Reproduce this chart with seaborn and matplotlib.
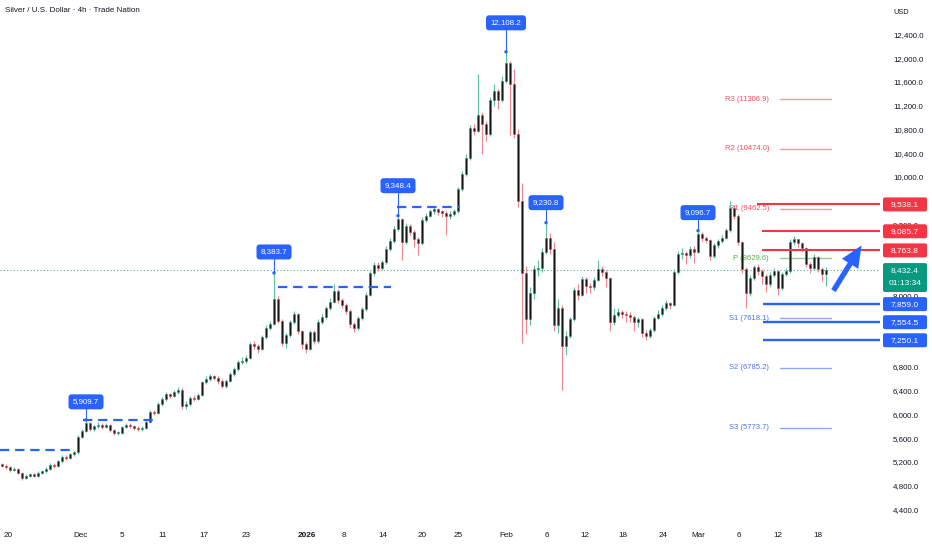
import matplotlib
matplotlib.use("Agg")
import matplotlib.pyplot as plt
from matplotlib.transforms import IdentityTransform
from matplotlib.patches import FancyBboxPatch, FancyArrowPatch
from matplotlib.lines import Line2D
import numpy as np
import pandas as pd
import seaborn as sns

# ---------------- data ----------------
first_open = 5160
closes = [
    5140, 5120, 5060, 5080, 5010, 4930, 4960, 4990, 4970, 5010,
    5040, 5090, 5150, 5130, 5210, 5290, 5270, 5330, 5360, 5620,
    5730, 5850, 5760, 5800, 5830, 5790, 5820, 5740, 5680, 5690,
    5790, 5830, 5800, 5780, 5750, 5770, 5880, 6040, 6030, 6180,
    6260, 6340, 6310, 6380, 6420, 6140, 6180, 6280, 6260, 6330,
    6540, 6600, 6640, 6620, 6560, 6480, 6560, 6680, 6760, 6880,
    6900, 6950, 7180, 7150, 7100, 7300, 7460, 7520, 7950, 7580,
    7200, 7340, 7550, 7690, 7400, 7180, 7110, 7390, 7230, 7560,
    7650, 7790, 7900, 8080, 7920, 7850, 7740, 7520, 7460, 7620,
    7780, 8020, 8380, 8520, 8470, 8560, 8790, 8920, 9130, 9290,
    8900, 9180, 9080, 8950, 8880, 9280, 9350, 9420, 9460, 9410,
    9400, 9340, 9380, 9420, 9790, 10050, 10320, 10830, 10780, 11050,
    10900, 10720, 11300, 11440, 11300, 11620, 11920, 11560, 10720, 9600,
    8380, 7600, 8050, 8450, 8470, 8740, 8980, 8780, 7500, 7790,
    7150, 7330, 7600, 8100, 8020, 8290, 8170, 8140, 8270, 8450,
    8400, 8300, 7550, 7680, 7720, 7700, 7680, 7640, 7560, 7600,
    7380, 7320, 7420, 7620, 7700, 7800, 7870, 7840, 8400, 8700,
    8720, 8680, 8790, 8740, 9040, 8980, 8940, 8670, 8850, 8920,
    8980, 9100, 9480, 9350, 8900, 8450, 8050, 8300, 8480, 8420,
    8330, 8200, 8350, 8410, 8130, 8360, 8410, 8900, 8950, 8880,
    8800, 8540, 8470, 8650, 8450, 8360, 8432.4,
]
highs = [
    5190, 5170, 5140, 5110, 5100, 5030, 4990, 5020, 5010, 5040,
    5070, 5120, 5180, 5190, 5240, 5310, 5320, 5350, 5390, 5650,
    5760, 5909.7, 5870, 5830, 5870, 5850, 5850, 5840, 5760, 5720,
    5810, 5860, 5860, 5820, 5800, 5800, 5900, 6070, 6080, 6210,
    6290, 6380, 6370, 6410, 6460, 6440, 6220, 6310, 6320, 6370,
    6570, 6640, 6680, 6670, 6650, 6590, 6600, 6710, 6800, 6920,
    6960, 7000, 7220, 7230, 7190, 7340, 7500, 7580, 8383.7, 7990,
    7610, 7380, 7590, 7740, 7710, 7420, 7220, 7420, 7420, 7600,
    7700, 7830, 7960, 8200, 8110, 7960, 7880, 7770, 7560, 7660,
    7810, 8060, 8420, 8570, 8560, 8600, 8830, 8970, 9180, 9348.4,
    9310, 9230, 9210, 9110, 8990, 9320, 9400, 9460, 9500, 9480,
    9450, 9420, 9420, 9460, 9830, 10100, 10380, 10880, 10900, 11740,
    11100, 10950, 11350, 11560, 11480, 11700, 12108.2, 11960, 11820, 10800,
    9900, 8500, 8150, 8520, 8600, 8800, 9230.8, 9050, 8900, 7950,
    7850, 7400, 7650, 8150, 8200, 8340, 8320, 8220, 8310, 8600,
    8500, 8430, 8320, 7800, 7800, 7760, 7750, 7720, 7680, 7650,
    7630, 7420, 7460, 7660, 7760, 7840, 7920, 7900, 8450, 8750,
    8800, 8760, 8830, 8830, 9096.7, 9070, 9010, 8960, 8890, 8960,
    9020, 9140, 9590, 9520, 9380, 8930, 8480, 8350, 8520, 8530,
    8450, 8360, 8400, 8460, 8440, 8400, 8460, 8960, 9000, 8960,
    8900, 8820, 8560, 8700, 8670, 8480, 8480,
]
lows = [
    5110, 5090, 5030, 5040, 4990, 4890, 4910, 4940, 4940, 4950,
    4990, 5020, 5070, 5100, 5110, 5190, 5240, 5250, 5300, 5340,
    5600, 5710, 5730, 5720, 5780, 5760, 5770, 5710, 5650, 5650,
    5670, 5770, 5770, 5740, 5720, 5730, 5750, 5860, 5990, 6010,
    6150, 6230, 6270, 6290, 6350, 6090, 6100, 6150, 6230, 6240,
    6310, 6510, 6570, 6580, 6520, 6440, 6450, 6540, 6650, 6740,
    6850, 6860, 6930, 7110, 7040, 7080, 7270, 7430, 7500, 7540,
    7150, 7120, 7310, 7520, 7360, 7100, 7030, 7080, 7180, 7200,
    7520, 7610, 7760, 7870, 7880, 7790, 7690, 7460, 7390, 7430,
    7590, 7750, 7990, 8340, 8420, 8430, 8530, 8750, 8890, 9090,
    8610, 8870, 9030, 8820, 8690, 8860, 9250, 9320, 9380, 9360,
    9330, 9030, 9300, 9350, 9400, 9760, 10020, 10290, 10700, 10750,
    10380, 10600, 10690, 11200, 11150, 11260, 11580, 10700, 10650, 9500,
    7200, 7350, 7500, 7950, 8330, 8400, 8700, 8700, 7400, 7380,
    6420, 7000, 7280, 7570, 7920, 7990, 8050, 8050, 8100, 8240,
    8330, 8150, 7400, 7500, 7640, 7620, 7560, 7550, 7400, 7480,
    7300, 7250, 7280, 7390, 7600, 7660, 7760, 7780, 7820, 8370,
    8620, 8530, 8640, 8550, 8720, 8920, 8880, 8600, 8630, 8810,
    8880, 8950, 9080, 9300, 8850, 8380, 7790, 8000, 8260, 8350,
    8200, 8070, 8150, 8320, 8020, 8100, 8330, 8390, 8860, 8820,
    8740, 8480, 8380, 8430, 8400, 8250, 8160,
]

tick_labels = ["20", "Dec", "5", "11", "17", "23", "2026", "8", "14", "20", "25",
               "Feb", "6", "12", "18", "24", "Mar", "6", "12", "18"]
tick_bars = [1.5, 19.75, 30, 40.25, 50.5, 61, 76.25, 85.5, 95.25, 105, 114,
             126, 136.25, 145.75, 155.25, 165.25, 174, 184.25, 194, 204]

# price scale labels that are visible (the others sit under the level tags)
price_ticks = [4400, 4800, 5200, 5600, 6000, 6400, 6800, 8000, 9200, 9600,
               10000, 10400, 10800, 11200, 11600, 12000, 12400]

peak_bars = [21, 68, 99, 126, 136, 174]
peak_values = [5909.7, 8383.7, 9348.4, 12108.2, 9230.8, 9096.7]

dash_levels = [5400, 5900, 8140, 9490]
dash_spans = [(-0.5, 17.5), (20.25, 37.75), (69, 97.25), (98.75, 114.5)]

pivot_names = ["R3", "R2", "R1", "P", "S1", "S2", "S3"]
pivot_values = [11306.9, 10474.0, 9462.5, 8629.6, 7618.1, 6785.2, 5773.7]

resistance_levels = [9538.1, 9085.7, 8763.8]
support_levels = [7859.0, 7554.5, 7250.1]

arrow_from = (207.5, 8046)
arrow_to = (215.25, 8888)

countdown = "01:13:34"
title = "Silver / U.S. Dollar \u00b7 4h \u00b7 Trade Nation"

# ---------------- style ----------------
sns.set_theme(style="white")
plt.rcParams['font.family'] = ['Liberation Sans', 'DejaVu Sans']

BLUE = '#2962ff'
RED = '#f23645'
GREEN = '#089981'
TXT = '#131722'

W, H = 932, 550
fig = plt.figure(figsize=(W / 100, H / 100), dpi=100)
fig.patch.set_facecolor('white')
ax = fig.add_axes([0, 1 - 515 / H, 880 / W, 515 / H])
ax.set_facecolor('white')
ax.set_xlim(-0.5, 219.5)
ax.set_ylim(4307, 12981)
for s in ax.spines.values():
    s.set_visible(False)
ax.grid(False)

opens = [first_open] + closes[:-1]
df = pd.DataFrame({'bar': np.arange(len(closes)), 'open': opens,
                   'high': highs, 'low': lows, 'close': closes})
df['up'] = df['close'] >= df['open']

for up, g in df.groupby('up'):
    wick = '#5dbf9f' if up else '#f0858b'
    edge = '#2a9676' if up else '#d9434e'
    ax.vlines(g['bar'], g['low'], g['high'], color=wick, lw=0.8, zorder=3)
    bottom = np.minimum(g['open'], g['close'])
    height = np.maximum(np.abs(g['close'] - g['open']), 20)
    ax.bar(g['bar'], height, bottom=bottom, width=0.74, color='#171717',
           edgecolor=edge, linewidth=0.4, zorder=4)

# current price dotted line
last_price = closes[-1]
ax.axhline(last_price, color=GREEN, lw=0.8, ls=(0, (1, 2)), zorder=2, alpha=0.75)

# dashed breakout levels
for lvl, (x0, x1) in zip(dash_levels, dash_spans):
    ax.plot([x0, x1], [lvl, lvl], color=BLUE, lw=1.6, dashes=(4.2, 2.6), zorder=5,
            solid_capstyle='butt', dash_capstyle='butt')

# pivot levels
pivot_line_cols = {'R': '#f59aa2', 'P': '#8fcf9a', 'S': '#8fa8f7'}
pivot_txt_cols = {'R': '#f0505c', 'P': '#4caf50', 'S': '#4a73f0'}
for name, val in zip(pivot_names, pivot_values):
    k = name[0]
    ax.plot([194.5, 207.25], [val, val], color=pivot_line_cols[k], lw=1.0, zorder=2)
    ax.text(191.75, val, f"{name} ({val:.1f})", ha='right', va='center',
            fontsize=5.5, color=pivot_txt_cols[k], zorder=2)

# thick level lines
for i, lvl in enumerate(resistance_levels):
    x0 = 188.75 if i == 0 else 190
    ax.plot([x0, 219.5], [lvl, lvl], color=RED, lw=1.5, zorder=6, solid_capstyle='butt')
for lvl in support_levels:
    ax.plot([190.25, 219.5], [lvl, lvl], color=BLUE, lw=1.7, zorder=6, solid_capstyle='butt')

# peak dots
peaks = pd.DataFrame({'bar': peak_bars, 'price': peak_values})
sns.scatterplot(data=peaks, x='bar', y='price', ax=ax, s=6, color=BLUE,
                edgecolor='none', zorder=7, legend=False)
ax.set_xlabel('')
ax.set_ylabel('')

# arrow
arr = FancyArrowPatch(arrow_from, arrow_to,
                      arrowstyle='simple,head_length=1.3,head_width=1.15,tail_width=0.32',
                      mutation_scale=12, color=BLUE, lw=0, zorder=8)
ax.add_patch(arr)

# axes ticks
ax.yaxis.tick_right()
ax.set_yticks(price_ticks)
ax.set_yticklabels([f"{v:,.1f}" for v in price_ticks])
ax.tick_params(axis='y', length=0, pad=9.4, labelsize=5.7, labelcolor=TXT)
ax.set_xticks(tick_bars)
ax.set_xticklabels(tick_labels)
ax.tick_params(axis='x', length=0, pad=12.5, labelsize=5.9, labelcolor=TXT)
for lab in ax.get_xticklabels():
    if lab.get_text() == "2026":
        lab.set_fontweight('bold')

ID = IdentityTransform()

# callout labels
offsets_px = [18, 21, 30, 29, 20, 18]
for b, v, off in zip(peak_bars, peak_values, offsets_px):
    xd, yd = ax.transData.transform((b, v))
    txt = f"{v:,.1f}"
    w, h = 5 * len(txt), 15
    yc = yd + off
    fig.add_artist(Line2D([xd, xd], [yd, yc - h / 2], transform=ID, color=BLUE, lw=0.8))
    fig.add_artist(FancyBboxPatch((xd - w / 2, yc - h / 2), w, h,
                                  boxstyle='round,pad=0,rounding_size=3',
                                  transform=ID, fc=BLUE, ec='none'))
    fig.text(xd, yc, txt, transform=ID, ha='center', va='center', color='white', fontsize=5.7)

# right-side price tags
def tag(price, color, lines, h=14):
    _, yd = ax.transData.transform((0, price))
    top = yd + 7
    box_h = h * len(lines) + (1 if len(lines) > 1 else 0)
    fig.add_artist(FancyBboxPatch((883, top - box_h), 44, box_h,
                                  boxstyle='round,pad=0,rounding_size=2',
                                  transform=ID, fc=color, ec='none', zorder=5))
    for j, s in enumerate(lines):
        fig.text(905, yd - j * 13.5, s, transform=ID, ha='center', va='center',
                 color='white', fontsize=6.0, zorder=6)

for lvl in resistance_levels:
    tag(lvl, RED, [f"{lvl:,.1f}"])
for lvl in support_levels:
    tag(lvl, BLUE, [f"{lvl:,.1f}"])
tag(last_price, GREEN, [f"{last_price:,.1f}", countdown])

fig.text(5, H - 10, title, transform=ID, ha='left', va='center', fontsize=5.8, color=TXT)
fig.text(893, H - 12, "USD", transform=ID, ha='left', va='center', fontsize=5.3, color=TXT)

fig.savefig("out.png", dpi=100, facecolor='white')
